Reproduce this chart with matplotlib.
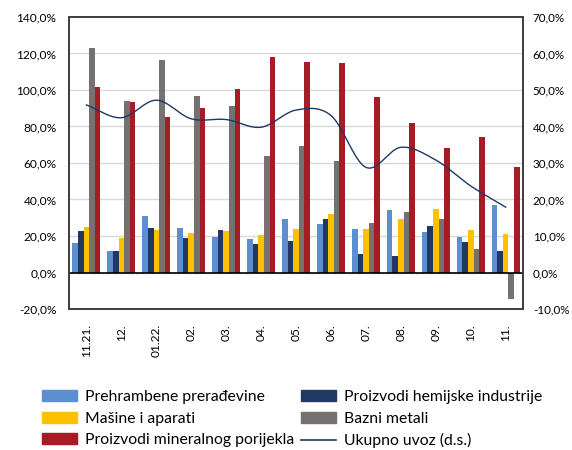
import numpy as np
import matplotlib.pyplot as plt
from matplotlib.patches import Patch
from matplotlib.lines import Line2D
from matplotlib.ticker import FuncFormatter

plt.rcParams['font.family'] = ['Lato', 'DejaVu Sans']

# --- Data ---
months = ['11.21.', '12.', '01.22.', '02.', '03.', '04.', '05.', '06.', '07.', '08.', '09.', '10.', '11.']
prehrambene = [16.1, 12.0, 30.7, 24.4, 19.3, 18.5, 29.4, 26.5, 24.1, 34.3, 22.2, 19.3, 37.0]
hemijske = [22.8, 11.7, 24.4, 18.7, 23.3, 15.4, 17.4, 29.3, 10.4, 9.3, 25.6, 16.5, 11.7]
masine = [25.0, 18.9, 23.3, 21.5, 22.8, 20.6, 23.7, 31.9, 24.1, 29.3, 34.8, 23.1, 20.9]
bazni = [122.8, 93.9, 116.3, 96.7, 91.3, 63.9, 69.4, 61.1, 27.2, 33.1, 29.3, 12.8, -14.3]
mineralni = [101.8, 93.3, 85.4, 90.0, 100.5, 118.3, 115.2, 114.8, 96.1, 82.0, 68.3, 74.3, 57.8]
ukupno = [45.9, 42.4, 47.2, 42.1, 41.9, 39.8, 44.5, 43.0, 28.8, 34.3, 30.8, 23.7, 17.9]

c_blue = '#5B8FCF'
c_navy = '#1F3864'
c_yellow = '#FFC000'
c_gray = '#767171'
c_red = '#A51C24'


def smooth(x, y, n=20):
    # Catmull-Rom curve through the points (like Excel's smoothed line)
    x = np.asarray(x, float)
    y = np.asarray(y, float)
    px = np.concatenate([[2 * x[0] - x[1]], x, [2 * x[-1] - x[-2]]])
    py = np.concatenate([[2 * y[0] - y[1]], y, [2 * y[-1] - y[-2]]])
    xs, ys = [], []
    t = np.linspace(0, 1, n, endpoint=False)
    for i in range(1, len(px) - 2):
        for p, out in ((px, xs), (py, ys)):
            p0, p1, p2, p3 = p[i - 1], p[i], p[i + 1], p[i + 2]
            out.extend(0.5 * (2 * p1 + (-p0 + p2) * t
                              + (2 * p0 - 5 * p1 + 4 * p2 - p3) * t ** 2
                              + (-p0 + 3 * p1 - 3 * p2 + p3) * t ** 3))
    xs.append(x[-1])
    ys.append(y[-1])
    return np.array(xs), np.array(ys)


fig = plt.figure(figsize=(5.72, 4.5), dpi=100)
ax = fig.add_axes([0.1206, 0.3133, 0.794, 0.649])
ax2 = ax.twinx()

x = np.arange(len(months))
w = 0.16
series = [(prehrambene, c_blue), (hemijske, c_navy), (masine, c_yellow),
          (bazni, c_gray), (mineralni, c_red)]
for k, (vals, col) in enumerate(series):
    ax.bar(x + (k - 2) * w, vals, w, color=col, zorder=3)

pct = FuncFormatter(lambda v, p: f'{v:.1f}%'.replace('.', ','))

ax.set_ylim(-20, 140)
ax.set_yticks(np.arange(-20, 141, 20))
ax.set_xlim(-0.5, len(months) - 0.5)
ax.set_xticks(x)
ax.set_xticklabels(months, rotation=90, fontsize=9)
ax.yaxis.set_major_formatter(pct)
ax.tick_params(axis='both', length=0, labelsize=8.6)
ax.tick_params(axis='x', pad=11)
ax.tick_params(axis='y', pad=9)
ax.grid(axis='y', color='#D9D9D9', lw=1, zorder=0)
ax.axhline(0, color='black', lw=1.2, zorder=4)

lx, ly = smooth(x, ukupno)
ax2.plot(lx, ly, color=c_navy, lw=1.0, zorder=5)
ax2.set_ylim(-10, 70)
ax2.set_yticks(np.arange(-10, 71, 10))
ax2.yaxis.set_major_formatter(pct)
ax2.tick_params(axis='y', length=0, labelsize=8.4, pad=7)

for a in (ax, ax2):
    for s in a.spines.values():
        s.set_color('#404040')
        s.set_linewidth(1.3)

handles = [Patch(color=c_blue), Patch(color=c_yellow), Patch(color=c_red),
           Patch(color=c_navy), Patch(color=c_gray), Line2D([], [], color=c_navy, lw=1.2)]
labels = ['Prehrambene prerađevine', 'Mašine i aparati', 'Proizvodi mineralnog porijekla',
          'Proizvodi hemijske industrije', 'Bazni metali', 'Ukupno uvoz (d.s.)']
fig.legend(handles, labels, ncol=2, loc='upper left', bbox_to_anchor=(0.074, 0.133),
           frameon=False, fontsize=11.3, handlelength=2.2, handletextpad=0.55,
           columnspacing=0.4, labelspacing=0.48, borderpad=0, borderaxespad=0)

fig.savefig('out.png', dpi=100)
